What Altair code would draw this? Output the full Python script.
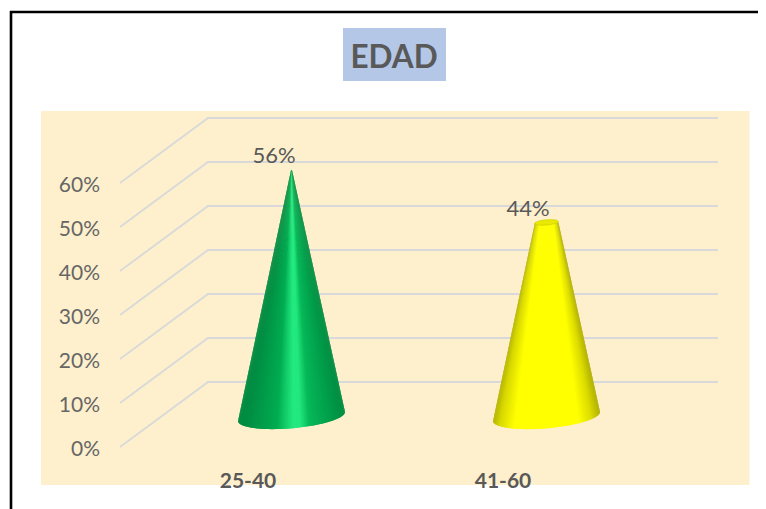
import altair as alt
import numpy as np
import pandas as pd

# ---- chart values ----
categories = ["25-40", "41-60"]
values = [56, 44]
value_labels = ["56%", "44%"]
tick_values = [0, 10, 20, 30, 40, 50, 60]
tick_labels = ["0%", "10%", "20%", "30%", "40%", "50%", "60%"]
title_text = "EDAD"

green_pos = [0.0, 0.10, 0.36, 0.45, 0.52, 0.58, 0.67, 0.88, 1.0]
green_col = ["#008a40", "#009044", "#00ac50", "#14d06c", "#22ea80", "#22e87e", "#06b858", "#009c49", "#008c42"]
yellow_pos = [0.0, 0.06, 0.20, 0.80, 0.92, 1.0]
yellow_col = ["#b4b400", "#d8d800", "#ffff00", "#ffff00", "#dcdc00", "#b0b000"]

# ---- layout (page pixels) ----
W, H = 750, 501
PX_PER_PCT = 4.4
Y0 = 447.0
TEXT_DY = 2.5


def pct(py):
    return (Y0 - py) / PX_PER_PCT


X_DOM = [8, 758]
Y_DOM = [pct(509), pct(8)]
xs = alt.Scale(domain=X_DOM, range=[0, W], nice=False, zero=False)
ys = alt.Scale(domain=Y_DOM, range=[H, 0], nice=False, zero=False)


def X(f="x"):
    return alt.X(f"{f}:Q", scale=xs, axis=None, stack=None, title=None)


def Y(f="y"):
    return alt.Y(f"{f}:Q", scale=ys, axis=None, stack=None, title=None)


X2 = alt.X2("x2:Q")
Y2 = alt.Y2("y2:Q")

# ---- background pieces ----
frame_left = alt.Chart(pd.DataFrame({"x": [11], "y": [pct(11)], "y2": [pct(509)]})).mark_rule(
    color="#000000", strokeWidth=2.6).encode(x=X(), y=Y(), y2=Y2)
frame_top = alt.Chart(pd.DataFrame({"x": [10], "x2": [758], "y": [pct(12)]})).mark_rule(
    color="#000000", strokeWidth=2.6).encode(x=X(), x2=X2, y=Y())
panel = alt.Chart(pd.DataFrame({"x": [41], "x2": [749.5], "y": [pct(111)], "y2": [pct(485)]})).mark_rect(
    color="#fef0cd").encode(x=X(), x2=X2, y=Y(), y2=Y2)
title_box = alt.Chart(pd.DataFrame({"x": [343], "x2": [446], "y": [pct(28)], "y2": [pct(81)]})).mark_rect(
    color="#b4c7e7").encode(x=X(), x2=X2, y=Y(), y2=Y2)
title = alt.Chart(pd.DataFrame({"x": [394], "y": [pct(56)], "t": [title_text]})).mark_text(
    font="Lato", fontWeight="bold", fontSize=31.5, color="#595959", baseline="middle", dy=TEXT_DY).encode(
    x=X(), y=Y(), text="t:N")

# ---- grid: floor-to-wall lines ----
FRONT_X, BACK_X, END_X = 120, 208, 718
DEPTH_PCT = 65 / PX_PER_PCT
rows = []
for v in tick_values:
    rows += [
        {"g": v, "o": 0, "x": FRONT_X, "y": v},
        {"g": v, "o": 1, "x": BACK_X, "y": v + DEPTH_PCT},
        {"g": v, "o": 2, "x": END_X, "y": v + DEPTH_PCT},
    ]
grid = alt.Chart(pd.DataFrame(rows)).mark_line(color="#d9d9d9", strokeWidth=1.9).encode(
    x=X(), y=Y(), detail="g:N", order="o:Q")

ticks = alt.Chart(pd.DataFrame({"x": [100] * 7, "y": tick_values, "t": tick_labels})).mark_text(
    font="Lato", fontSize=21, color="#666666", align="right", baseline="middle", dy=TEXT_DY).encode(
    x=X(), y=Y(), text="t:N")

# ---- cones ----
SLOT = (END_X - BACK_X) / len(categories)
front_centers = [FRONT_X + (i + 0.5) * SLOT for i in range(len(categories))]
cone_centers = [c + 44 for c in front_centers]

cats = alt.Chart(pd.DataFrame({"x": [c + 0.5 for c in front_centers], "y": [pct(479)] * 2, "t": categories})).mark_text(
    font="Lato", fontWeight="bold", fontSize=21, color="#595959", baseline="middle", dy=TEXT_DY).encode(
    x=X(), y=Y(), text="t:N")

A, K, B = 53.5, -4.5, 11.8
BASE_Y = 416.5
APEX_Y = Y0 - max(values) * PX_PER_PCT - 32.5
N = 90


def shade(f, pos, cols):
    rgb = np.array([[int(c[i:i + 2], 16) for i in (1, 3, 5)] for c in cols], float)
    out = [int(round(np.interp(f, pos, rgb[:, j]))) for j in range(3)]
    return "#%02x%02x%02x" % tuple(out)


def cone_rows(cid, cx, value, pos, cols):
    top_y = Y0 - value * PX_PER_PCT - 31
    T = np.linspace(np.pi, 0, N + 1)
    out = []
    for i in range(N):
        t0, t1 = T[i], T[min(i + 2, N)]
        x0, y0 = cx + A * np.cos(t0), BASE_Y + B * np.sin(t0) + K * np.cos(t0)
        x1, y1 = cx + A * np.cos(t1), BASE_Y + B * np.sin(t1) + K * np.cos(t1)
        f = (np.cos((T[i] + T[i + 1]) / 2) + 1) / 2
        col = shade(f, pos, cols)
        lx = lambda y: cx + (x0 - cx) * (y - APEX_Y) / (y0 - APEX_Y)
        rx = lambda y: cx + (x1 - cx) * (y - APEX_Y) / (y1 - APEX_Y)
        ya, yb = min(y0, y1), max(y0, y1)
        pts = [(top_y, lx(top_y), rx(top_y)), (ya, lx(ya), rx(ya))]
        pts.append((yb, x0, x0) if y0 > y1 else (yb, x1, x1))
        for py, a, b in pts:
            out.append({"s": f"{cid}-{i:03d}", "c": col, "y": float(pct(py)), "x": float(a), "x2": float(b)})
    return out


def cap_rows(cx, value):
    cy = Y0 - value * PX_PER_PCT - 31
    r = (cy - APEX_Y) / (BASE_Y - APEX_Y)
    out = []
    for c in np.linspace(-1, 1, 41):
        mid = cy + K * r * c
        h = B * r * np.sqrt(max(1 - c * c, 0))
        out.append({"x": cx + A * r * c, "y": pct(mid + h), "y2": pct(mid - h)})
    return out


def cone_layer(rows_):
    return alt.Chart(pd.DataFrame(rows_)).mark_area(orient="horizontal").encode(
        y=Y(), x=X(), x2=X2,
        fill=alt.Fill("c:N", scale=None, legend=None),
        detail="s:N")


green_cone = cone_layer(cone_rows("g", cone_centers[0], values[0], green_pos, green_col))
yellow_cone = cone_layer(cone_rows("y", cone_centers[1], values[1], yellow_pos, yellow_col))
cap = alt.Chart(pd.DataFrame(cap_rows(cone_centers[1], values[1]))).mark_area(
    color="#e9e900", stroke="#cfcf00", strokeWidth=0.8).encode(x=X(), y=Y(), y2=Y2)

vlabels = alt.Chart(pd.DataFrame({
    "x": [cone_centers[0] - 17.5, cone_centers[1] - 18.5],
    "y": [v + 3.2 for v in [values[0] + 7.4, values[1] + 7.4]],
    "t": value_labels})).mark_text(
    font="Lato", fontSize=22, color="#595959", baseline="middle", dy=TEXT_DY).encode(x=X(), y=Y(), text="t:N")

chart = alt.layer(
    frame_left, frame_top, panel, title_box, title, grid, ticks, cats,
    green_cone, yellow_cone, cap, vlabels
).properties(
    width=W, height=H, padding=0, background="#ffffff", autosize=alt.AutoSizeParams(type="none")
).configure_view(stroke=None)

chart.save("out.html", embed_options={"renderer": "svg", "actions": False})
